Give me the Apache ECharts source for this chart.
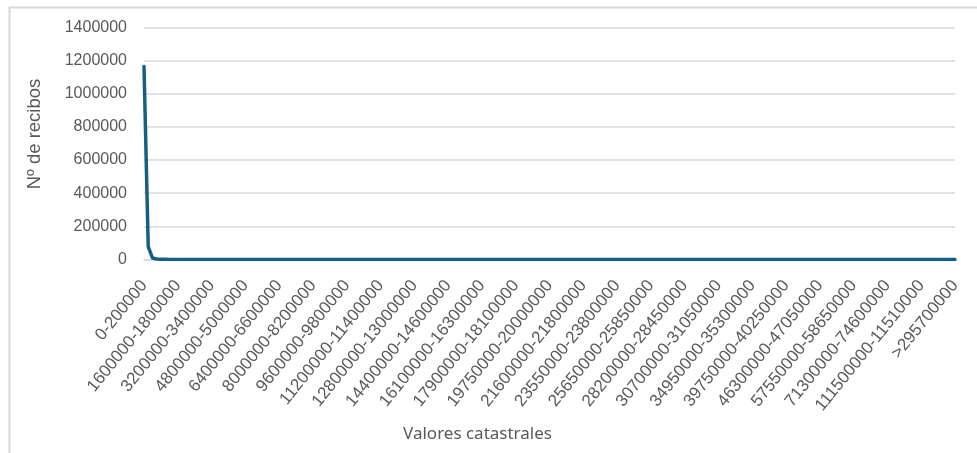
<!DOCTYPE html>
<html>
<head>
<meta charset="utf-8">
<script src="https://cdn.jsdelivr.net/npm/echarts@6/dist/echarts.min.js"></script>
<style>
html,body{margin:0;padding:0;background:#fff;}
#chart{width:977px;height:453px;}
</style>
</head>
<body>
<div id="chart"></div>
<script>
var categories = [
"0-200000","200000-400000","400000-600000","600000-800000","800000-1000000","1000000-1200000","1200000-1400000","1400000-1600000",
"1600000-1800000","1800000-2000000","2000000-2200000","2200000-2400000","2400000-2600000","2600000-2800000","2800000-3000000","3000000-3200000",
"3200000-3400000","3400000-3600000","3600000-3800000","3800000-4000000","4000000-4200000","4200000-4400000","4400000-4600000","4600000-4800000",
"4800000-5000000","5000000-5200000","5200000-5400000","5400000-5600000","5600000-5800000","5800000-6000000","6000000-6200000","6200000-6400000",
"6400000-6600000","6600000-6800000","6800000-7000000","7000000-7200000","7200000-7400000","7400000-7600000","7600000-7800000","7800000-8000000",
"8000000-8200000","8200000-8400000","8400000-8600000","8600000-8800000","8800000-9000000","9000000-9200000","9200000-9400000","9400000-9600000",
"9600000-9800000","9800000-10000000","10000000-10200000","10200000-10400000","10400000-10600000","10600000-10800000","10800000-11000000","11000000-11200000",
"11200000-11400000","11400000-11600000","11600000-11800000","11800000-12000000","12000000-12200000","12200000-12400000","12400000-12600000","12600000-12800000",
"12800000-13000000","13000000-13200000","13200000-13400000","13400000-13600000","13600000-13800000","13800000-14000000","14000000-14200000","14200000-14400000",
"14400000-14600000","14600000-14800000","14800000-15000000","15000000-15200000","15200000-15400000","15400000-15600000","15600000-15800000","15900000-16100000",
"16100000-16300000","16300000-16500000","16500000-16700000","16700000-16900000","16900000-17100000","17100000-17300000","17300000-17500000","17650000-17900000",
"17900000-18100000","18100000-18300000","18300000-18500000","18500000-18750000","18750000-19000000","19000000-19250000","19250000-19500000","19500000-19750000",
"19750000-20000000","20000000-20250000","20250000-20500000","20500000-20700000","20700000-20900000","20900000-21100000","21100000-21300000","21350000-21600000",
"21600000-21800000","21800000-22050000","22050000-22300000","22300000-22550000","22550000-22800000","22800000-23050000","23050000-23300000","23300000-23550000",
"23550000-23800000","23800000-24050000","24050000-24300000","24300000-24550000","24550000-24800000","24800000-25000000","25000000-25200000","25400000-25650000",
"25650000-25850000","25850000-26150000","26150000-26450000","26450000-26750000","26750000-27050000","27050000-27350000","27350000-27650000","27900000-28200000",
"28200000-28450000","28450000-28750000","28750000-29050000","29050000-29350000","29350000-29650000","29650000-29950000","29950000-30300000","30350000-30700000",
"30700000-31050000","31050000-31500000","31500000-32000000","32000000-32500000","32500000-33000000","33000000-33500000","33500000-34000000","34500000-34950000",
"34950000-35300000","35300000-35900000","35900000-36500000","36500000-37100000","37100000-37700000","37700000-38300000","38300000-38900000","39250000-39750000",
"39750000-40250000","40250000-41000000","41000000-41800000","41800000-42600000","42600000-43400000","43400000-44200000","44200000-45000000","45500000-46300000",
"46300000-47050000","47050000-48300000","48300000-49600000","49600000-51000000","51000000-52400000","52400000-53900000","53900000-55500000","56000000-57550000",
"57550000-58650000","58650000-60500000","60500000-62500000","62500000-64500000","64500000-66500000","66500000-68500000","68500000-70000000","70000000-71300000",
"71300000-74600000","74600000-78500000","78500000-83000000","83000000-88000000","88000000-93500000","93500000-99500000","99500000-105500000","105500000-111500000",
"111500000-11510000","115100000-125000000","125000000-140000000","140000000-160000000","160000000-185000000","185000000-215000000","215000000-250000000","250000000-295700000",
">295700000"
];

var recibos = [
1165000,78000,9000,3000,1500,900,600,420,
310,240,190,150,125,105,90,78,
68,60,53,47,42,38,34,31,
28,26,24,22,20,19,17,16,
15,14,13,12,11,11,10,9,
9,8,8,7,7,7,6,6,
6,5,5,5,5,4,4,4,
4,4,3,3,3,3,3,3,
3,3,2,2,2,2,2,2,
2,2,2,2,2,2,2,2,
2,2,2,2,1,1,1,1,
1,1,1,1,1,1,1,1,
1,1,1,1,1,1,1,1,
1,1,1,1,1,1,1,1,
1,1,1,1,1,1,1,1,
1,1,1,1,1,1,1,1,
1,1,1,1,1,1,1,1,
1,1,1,1,1,1,1,1,
1,1,1,1,1,1,1,1,
1,1,1,1,1,1,1,1,
1,1,1,1,1,1,1,1,
1,1,1,1,1,1,1,1,
1,1,1,1,1,1,1,1,
1,1,1,1,1,1,1,1,
1
];

var yTicks = [0,200000,400000,600000,800000,1000000,1200000,1400000];
var yAxisTitle = "Nº de recibos";
var xAxisTitle = "Valores catastrales";

var chart = echarts.init(document.getElementById('chart'), null, {renderer:'canvas'});
var textColor = '#595959';
chart.setOption({
  animation:false,
  grid:{left:144, right:22, top:27.5, bottom:193.5, containLabel:false},
  xAxis:{
    type:'category',
    data:categories,
    boundaryGap:false,
    axisLine:{show:true, lineStyle:{color:'#d9d9d9', width:1.5}},
    axisTick:{show:false},
    splitLine:{show:false},
    axisLabel:{
      interval:7,
      rotate:51,
      color:textColor,
      fontFamily:'Liberation Sans, Arial, sans-serif',
      fontSize:17,
      margin:23
    }
  },
  yAxis:{
    type:'value',
    min:yTicks[0],
    max:yTicks[yTicks.length-1],
    interval:yTicks[1]-yTicks[0],
    axisLine:{show:false},
    axisTick:{show:false},
    splitLine:{lineStyle:{color:'#d9d9d9', width:1.5}},
    axisLabel:{
      color:textColor,
      fontFamily:'Liberation Sans, Arial, sans-serif',
      fontSize:16,
      margin:17,
      formatter:function(v){return String(v);}
    }
  },
  series:[{
    type:'line',
    data:recibos,
    showSymbol:false,
    symbol:'none',
    lineStyle:{color:'#156082', width:3.5, join:'round', cap:'round'},
    itemStyle:{color:'#156082'}
  }],
  graphic:[
    {type:'rect', left:7, top:5, shape:{width:990, height:470}, style:{fill:'none', stroke:'#d9d9d9', lineWidth:2}, silent:true},
    {type:'text', x:35, y:134, rotation:Math.PI/2, style:{text:yAxisTitle, fill:textColor, font:'18.5px "Liberation Sans", Arial, sans-serif', align:'center', verticalAlign:'middle'}},
    {type:'text', x:477.5, y:434, style:{text:xAxisTitle, fill:textColor, font:'17px "Noto Sans", "Open Sans", sans-serif', align:'center', verticalAlign:'middle'}}
  ]
});
</script>
</body>
</html>
